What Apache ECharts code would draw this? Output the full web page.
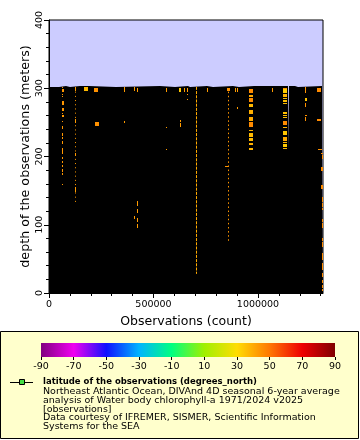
<!DOCTYPE html>
<html><head><meta charset="utf-8">
<script src="https://cdn.jsdelivr.net/npm/echarts@6/dist/echarts.min.js"></script>
<style>html,body{margin:0;padding:0;background:#fff}#c{width:360px;height:440px}</style>
</head><body><div id="c"></div>
<script>
// ================= DATA =================
const xMax = 1311000;
const xMajorTicks = [0, 500000, 1000000];
const xMinorTicks = [100000, 200000, 300000, 400000, 600000, 700000, 800000, 900000, 1100000, 1200000, 1300000];
const colorbarTicks = [-90, -70, -50, -30, -10, 10, 30, 50, 70, 90];
const paletteColors = ['#800080', '#f000f0', '#1010ff', '#00b4ff', '#00ff80', '#a0f000', '#ffdd00', '#ff7700', '#ee0000', '#800000'];

// deepest sampled depth (m) for consecutive ranges of observation index
const coverageStart = [0, 47850, 81340, 100480, 148320, 153110, 191390, 320570, 531100, 602870, 665070, 674640, 755980, 784690, 880380, 909090, 980860, 985640, 1143540, 1148320, 1177030, 1191390, 1306210];
const coverageDepth = [301.8, 303.3, 301.8, 303.3, 301.8, 303.3, 301.8, 303.3, 301.8, 303.3, 301.8, 303.3, 301.8, 303.3, 301.8, 303.3, 301.8, 303.3, 209.5, 303.3, 301.8, 303.3, 212.4];

// coloured observation groups: [firstObs, lastObs, depthTop, depthBottom, latitude]
const marksA = [
  [62500, 66500, 301.5, 300.5, 44], [62500, 71300, 298.5, 294, 44], [62500, 66500, 292, 290.5, 44],
  [62500, 66500, 289, 288, 44], [62500, 71300, 282, 276, 44], [62500, 71300, 271, 266, 44],
  [62500, 66500, 264, 262, 44], [62500, 71300, 261, 258.5, 44], [62500, 66500, 252.5, 250, 44],
  [62500, 66500, 244, 241, 44], [62500, 66500, 235, 230, 44], [62500, 66500, 228, 226, 44],
  [62500, 66500, 223, 218.5, 44], [62500, 66500, 213, 207, 44], [62500, 66500, 206, 203, 44],
  [62500, 66500, 200, 197, 44], [62500, 66500, 193.5, 190, 44], [62500, 66500, 188, 184.5, 44],
  [62500, 66500, 181, 178, 44], [62500, 66500, 175.5, 173, 44], [62500, 66500, 160, 158.5, 44]
];
const marksB = [
  [124700, 128700, 301.6, 295.3, 43], [124700, 128700, 254.7, 249.7, 43],
  [124700, 128700, 205.8, 200.9, 43], [124700, 128700, 154.9, 148.6, 43]
];
const marksSmall = [
  [167800, 186300, 301.4, 296.4, 37], [215600, 234500, 300.4, 294.5, 45], [220400, 239300, 250.5, 244.7, 45],
  [359150, 363150, 301.4, 295.0, 43], [359150, 363150, 252.5, 249.5, 43],
  [407000, 411000, 302.3, 296.4, 43], [407000, 411000, 112.8, 107.7, 43],
  [421350, 425350, 300.0, 294.5, 43], [421350, 425350, 134.7, 128.1, 43], [421350, 425350, 123.1, 117.2, 43],
  [421350, 425350, 109.9, 104.0, 43], [421350, 425350, 101.8, 95.7, 43],
  [560100, 564100, 300.4, 294.5, 43], [560100, 564100, 242.8, 241.4, 43], [560100, 564100, 210.6, 209.2, 43],
  [622300, 631400, 300.4, 294.5, 34], [627100, 631100, 253.5, 250.1, 43], [627100, 631100, 248.6, 243.7, 43],
  [646200, 650200, 300.4, 294.5, 43], [660600, 664600, 300.4, 294.5, 43], [660600, 664600, 291.1, 289.7, 43],
  [660600, 664600, 283.8, 282.4, 43], [756300, 760300, 300.4, 294.5, 43],
  [842400, 856000, 186.1, 184.7, 44], [851900, 866000, 300.4, 295.4, 45],
  [890250, 894250, 300.4, 294.5, 43], [899800, 903800, 300.4, 294.5, 43], [899800, 903800, 273.0, 270.0, 43],
  [1067300, 1071300, 300.4, 294.5, 43],
  [1282600, 1301300, 300.4, 294.5, 46], [1282600, 1301300, 255.0, 252.0, 46], [1287400, 1306000, 211.0, 209.5, 45]
];
const marksE = [
  [957200, 976100, 299.1, 293.7, 46], [957200, 976100, 290.3, 287.9, 40], [957200, 976100, 286.4, 280.5, 46],
  [957200, 976100, 276.6, 273.2, 37], [957200, 976100, 268.3, 262.5, 39], [957200, 976100, 257.6, 252.7, 40],
  [957200, 976100, 250.3, 242.9, 46], [957200, 976100, 239.0, 238.0, 38], [957200, 976100, 235.1, 229.2, 37],
  [957200, 976100, 227.8, 222.9, 37], [957200, 976100, 220.4, 217.0, 39], [957200, 976100, 213.1, 209.7, 38]
];
const marksF = [
  [1119900, 1138800, 300.6, 299.1, 44], [1119900, 1138800, 298.2, 292.8, 33], [1119900, 1138800, 290.9, 287.0, 38],
  [1119900, 1138800, 285.5, 284.0, 36], [1119900, 1138800, 282.1, 280.1, 36], [1119900, 1138800, 278.2, 276.2, 36],
  [1119900, 1138800, 264.5, 263.0, 36], [1119900, 1138800, 261.5, 260.1, 36], [1119900, 1138800, 258.6, 256.6, 36],
  [1119900, 1138800, 252.7, 246.3, 46], [1119900, 1138800, 242.9, 241.4, 38], [1119900, 1138800, 238.0, 231.6, 35],
  [1119900, 1138800, 229.2, 222.9, 40], [1119900, 1138800, 220.9, 219.5, 38], [1119900, 1138800, 218.5, 213.6, 34],
  [1119900, 1138800, 212.1, 210.7, 38]
];
const marksG = [
  [1225150, 1229150, 301.6, 299.6, 44], [1225150, 1229150, 298.7, 293.7, 45], [1225150, 1233900, 286.4, 282.0, 35],
  [1225150, 1229150, 279.0, 273.2, 45], [1225150, 1233900, 261.0, 259.5, 45], [1225150, 1229150, 258.5, 252.6, 45]
];
const marksH = [
  [1301700, 1310500, 205.7, 204.3, 46], [1306500, 1310500, 202.3, 196.9, 46], [1301700, 1310500, 184.3, 178.9, 46],
  [1301700, 1310500, 158.4, 152.5, 46], [1306500, 1310500, 140.3, 133.4, 46], [1306500, 1310500, 131.5, 126.5, 46],
  [1306500, 1310500, 125.1, 121.7, 46], [1306500, 1310500, 108.5, 104.0, 46], [1306500, 1310500, 102.0, 95.7, 46],
  [1306500, 1310500, 81.1, 76.0, 46], [1306500, 1310500, 74.0, 67.9, 46], [1306500, 1310500, 58.2, 48.4, 46],
  [1306500, 1310500, 44.0, 33.7, 46], [1306500, 1310500, 29.3, 23.9, 46], [1306500, 1310500, 19.1, 14.0, 46],
  [1306500, 1310500, 12.0, 8.0, 46], [1306500, 1310500, 6.0, 2.9, 46]
];
// long, regularly sampled vertical profiles: [obs, obs, depthTop, depthBottom, latitude]
const profiles = [
  [124700, 124700, 295.0, 129.5, 43],
  [703600, 703600, 302.0, 28.0, 40],
  [856800, 856800, 295.0, 73.0, 44]
];

// ================= CHART =================
const FONT = '"DejaVu Sans"';
const profileDash = [[1, 3.2], [3, 1.2], [1.5, 2.6]];

const coverageData = [];
coverageStart.forEach((s, i) => {
  const e = i + 1 < coverageStart.length ? coverageStart[i + 1] : xMax;
  coverageData.push([s, coverageDepth[i]], [e, coverageDepth[i]]);
});
const markData = [].concat(marksA, marksB, marksSmall, marksE, marksF, marksG, marksH);

const chart = echarts.init(document.getElementById('c'), null, {renderer: 'canvas'});
chart.setOption({
  animation: false,
  backgroundColor: '#ffffff',
  textStyle: {fontFamily: FONT},
  grid: [
    {left: 49, top: 20, width: 274, height: 273, show: true, borderColor: '#000', borderWidth: 1,
     backgroundColor: '#ccccff', containLabel: false, outerBoundsMode: 'none'},
    {left: 41, top: 343, width: 294, height: 14, show: false, containLabel: false, outerBoundsMode: 'none'}
  ],
  xAxis: [
    {gridIndex: 0, type: 'value', min: 0, max: xMax, interval: 500000, position: 'bottom',
     axisLine: {show: true, lineStyle: {color: '#000', width: 1}},
     axisTick: {show: true, length: 5, customValues: xMajorTicks, lineStyle: {color: '#000'}},
     axisLabel: {customValues: xMajorTicks, color: '#000', fontSize: 9.5, fontFamily: FONT, margin: 7,
                 formatter: v => String(Math.round(v))},
     splitLine: {show: false},
     name: 'Observations (count)', nameLocation: 'middle', nameGap: 19,
     nameTextStyle: {color: '#000', fontSize: 12.5, fontFamily: FONT}},
    {gridIndex: 0, type: 'value', min: 0, max: xMax, position: 'bottom',
     axisLine: {show: false}, axisTick: {show: true, length: 3, customValues: xMinorTicks, lineStyle: {color: '#000'}},
     axisLabel: {show: false}, splitLine: {show: false}},
    {gridIndex: 1, type: 'value', min: -90, max: 90, interval: 20, position: 'bottom',
     axisLine: {show: false},
     axisTick: {show: true, length: 3, customValues: colorbarTicks, lineStyle: {color: '#000'}},
     axisLabel: {customValues: colorbarTicks, color: '#000', fontSize: 9.5, fontFamily: FONT, margin: 5},
     splitLine: {show: false}}
  ],
  yAxis: [
    {gridIndex: 0, type: 'value', min: 0, max: 400, interval: 100,
     axisLine: {show: true, lineStyle: {color: '#000', width: 1}},
     axisTick: {show: true, length: 5, lineStyle: {color: '#000'}},
     minorTick: {show: true, splitNumber: 5, length: 3, lineStyle: {color: '#000'}},
     axisLabel: {rotate: 90, color: '#000', fontSize: 9.5, fontFamily: FONT, margin: 4},
     splitLine: {show: false},
     name: 'depth of the observations (meters)', nameLocation: 'middle', nameGap: 17, nameMoveOverlap: false,
     nameTextStyle: {color: '#000', fontSize: 12.7, fontFamily: FONT}},
    {gridIndex: 1, type: 'value', min: 0, max: 1, show: false}
  ],
  visualMap: {
    type: 'continuous', show: false, min: -90, max: 90, dimension: 4, seriesIndex: [1, 2],
    inRange: {color: paletteColors}
  },
  series: [
    {type: 'line', xAxisIndex: 0, yAxisIndex: 0, data: coverageData, symbol: 'none', silent: true,
     lineStyle: {width: 0}, areaStyle: {color: '#000', opacity: 1}, z: 1},
    {type: 'custom', xAxisIndex: 0, yAxisIndex: 0, data: markData, silent: true, z: 3,
     encode: {x: [0, 1], y: [2, 3]},
     renderItem: (params, api) => {
       const a = api.coord([api.value(0), api.value(2)]);
       const b = api.coord([api.value(1), api.value(3)]);
       const x0 = Math.round(a[0]); let x1 = Math.round(b[0]); if (x1 <= x0) x1 = x0 + 1;
       const y0 = Math.round(a[1]); let y1 = Math.round(b[1]); if (y1 <= y0) y1 = y0 + 1;
       return {type: 'rect', shape: {x: x0, y: y0, width: x1 - x0, height: y1 - y0},
               style: {fill: api.visual('color')}};
     }},
    {type: 'custom', xAxisIndex: 0, yAxisIndex: 0, data: profiles, silent: true, z: 3,
     encode: {x: [0, 1], y: [2, 3]},
     renderItem: (params, api) => {
       const a = api.coord([api.value(0), api.value(2)]);
       const b = api.coord([api.value(0), api.value(3)]);
       const x = Math.floor(a[0]) + 0.5;
       return {type: 'line', shape: {x1: x, y1: a[1], x2: x, y2: b[1]},
               style: {stroke: api.visual('color'), lineWidth: 1, lineDash: profileDash[params.dataIndex]}};
     }},
    {type: 'custom', xAxisIndex: 2, yAxisIndex: 1, data: [[-90, 90]], silent: true, z: 3,
     encode: {x: [0, 1]},
     renderItem: (params, api) => {
       const p0 = api.coord([api.value(0), 1]);
       const p1 = api.coord([api.value(1), 0]);
       const stops = paletteColors.map((c, i) => ({offset: i / (paletteColors.length - 1), color: c}));
       return {type: 'rect', shape: {x: p0[0], y: p0[1], width: p1[0] - p0[0], height: p1[1] - p0[1]},
               style: {fill: new echarts.graphic.LinearGradient(0, 0, 1, 0, stops)}};
     }}
  ],
  graphic: [
    {type: 'rect', z: -10, silent: true, shape: {x: 0.5, y: 331.5, width: 358, height: 107},
     style: {fill: '#ffffcc', stroke: '#000', lineWidth: 1}},
    {type: 'line', z: 5, silent: true, shape: {x1: 10, y1: 382.5, x2: 33, y2: 382.5}, style: {stroke: '#000', lineWidth: 1}},
    {type: 'rect', z: 6, silent: true, shape: {x: 19.5, y: 379.5, width: 5, height: 5}, style: {fill: '#44dd44', stroke: '#000', lineWidth: 1}},
    {type: 'text', z: 5, silent: true, style: {x: 43, y: 382, text: 'latitude of the observations (degrees_north)', font: 'bold 8.5px ' + FONT, fill: '#000', verticalAlign: 'middle'}},
    {type: 'text', z: 5, silent: true, style: {x: 43, y: 391.5, text: 'Northeast Atlantic Ocean, DIVAnd 4D seasonal 6-year average', font: '9.5px ' + FONT, fill: '#000', verticalAlign: 'middle'}},
    {type: 'text', z: 5, silent: true, style: {x: 43, y: 400.3, text: 'analysis of Water body chlorophyll-a 1971/2024 v2025', font: '9.5px ' + FONT, fill: '#000', verticalAlign: 'middle'}},
    {type: 'text', z: 5, silent: true, style: {x: 43, y: 409.1, text: '[observations]', font: '9.5px ' + FONT, fill: '#000', verticalAlign: 'middle'}},
    {type: 'text', z: 5, silent: true, style: {x: 43, y: 417.9, text: 'Data courtesy of IFREMER, SISMER, Scientific Information', font: '9.5px ' + FONT, fill: '#000', verticalAlign: 'middle'}},
    {type: 'text', z: 5, silent: true, style: {x: 43, y: 426.7, text: 'Systems for the SEA', font: '9.5px ' + FONT, fill: '#000', verticalAlign: 'middle'}}
  ]
});
</script></body></html>
